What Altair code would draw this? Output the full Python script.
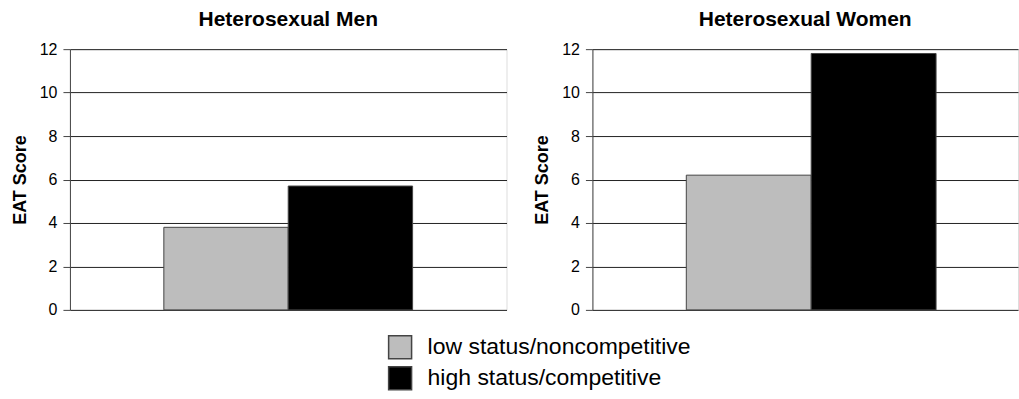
import altair as alt
import pandas as pd

panels = ["Heterosexual Men", "Heterosexual Women"]
conditions = ["low status/noncompetitive", "high status/competitive"]
men_scores = [3.8, 5.7]
women_scores = [6.2, 11.8]
y_ticks = [0, 2, 4, 6, 8, 10, 12]

rows = []
for c, v in zip(conditions, men_scores):
    rows.append({"panel": panels[0], "condition": c, "score": v})
for c, v in zip(conditions, women_scores):
    rows.append({"panel": panels[1], "condition": c, "score": v})
df = pd.DataFrame(rows)

FONT = "Liberation Sans"
color_scale = alt.Scale(domain=conditions, range=["#bdbdbd", "#000000"])


def panel(name, width, pad_outer, align, show_legend):
    legend = None
    if show_legend:
        legend = alt.Legend(
            title=None, orient="none", legendX=318, legendY=286,
            direction="vertical", symbolType="square", symbolSize=529,
            symbolStrokeColor="#444", symbolStrokeWidth=1.5,
            labelFontSize=23, labelFont=FONT, labelColor="#000",
            rowPadding=2, labelOffset=15, labelLimit=500, padding=0,
        )
    return (
        alt.Chart(df[df["panel"] == name])
        .mark_bar(stroke="#444", strokeWidth=1)
        .encode(
            x=alt.X("condition:N", sort=conditions,
                    scale=alt.Scale(paddingInner=0, paddingOuter=pad_outer,
                                    align=align),
                    axis=None),
            y=alt.Y("score:Q", title="EAT Score",
                    scale=alt.Scale(domain=[0, 12], nice=False),
                    axis=alt.Axis(values=y_ticks, grid=True, gridColor="#222",
                                  gridOpacity=1, domainColor="#444",
                                  tickColor="#444", tickSize=7,
                                  labelFontSize=16, labelFont=FONT,
                                  labelColor="#000", labelPadding=6,
                                  titleFontSize=18, titleFont=FONT,
                                  titleFontWeight="bold", titleColor="#000",
                                  titlePadding=10)),
            color=alt.Color("condition:N", sort=conditions, scale=color_scale,
                            legend=legend),
        )
        .properties(
            width=width, height=261,
            title=alt.TitleParams(name, fontSize=21, font=FONT,
                                  fontWeight="bold", color="#000", offset=11),
        )
    )


left = panel(panels[0], 437, 0.755, 0.5, True)
right = panel(panels[1], 426, 0.704, 0.534, False)

chart = (
    alt.hconcat(left, right, spacing=25)
    .properties(padding={"left": 10, "top": 8, "right": 0, "bottom": 0})
    .configure_view(stroke="#444", strokeWidth=1)
    .configure(background="white")
)

chart.save("out.html", embed_options={"renderer": "svg", "actions": False})
